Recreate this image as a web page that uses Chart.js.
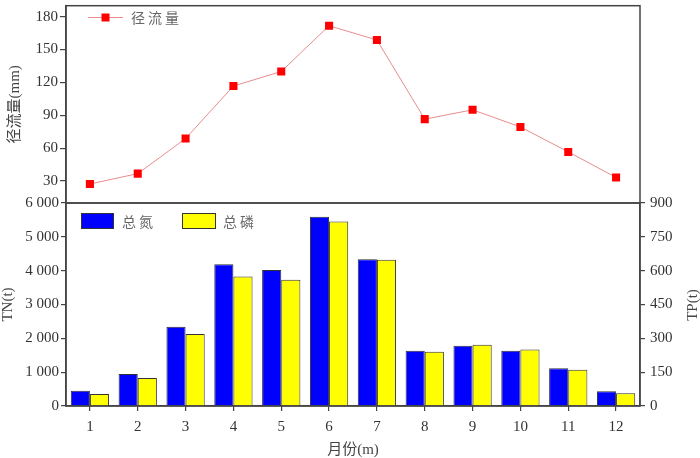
<!DOCTYPE html>
<html>
<head>
<meta charset="utf-8">
<script src="https://cdn.jsdelivr.net/npm/chart.js@4.4.1/dist/chart.umd.min.js"></script>
<style>
  html, body { margin: 0; padding: 0; background: #fff; }
  #wrap { position: relative; width: 700px; height: 458px; }
  canvas { position: absolute; left: 0; top: 0; }
</style>
</head>
<body>
<div id="wrap">
  <canvas id="bottom" width="700" height="458"></canvas>
  <canvas id="top" width="700" height="458"></canvas>
</div>
<script>
// ---- data ----
const months = ['1','2','3','4','5','6','7','8','9','10','11','12'];
const runoff = [27.3, 36.8, 68.8, 116.7, 130, 171.7, 158.7, 86.5, 95, 79.4, 56.6, 33.3];
const tn = [452, 946, 2344, 4188, 4020, 5596, 4335, 1635, 1783, 1635, 1113, 433];
const tp = [53, 124, 319, 574, 560, 818, 648, 241, 271, 251, 161, 56];
const runoffTicks = [30, 60, 90, 120, 150, 180];
const tnTicks = [0, 1000, 2000, 3000, 4000, 5000, 6000];
const tpTicks = [0, 150, 300, 450, 600, 750, 900];
const runoffLabel = '径流量';
const tnLabel = '总氮';
const tpLabel = '总磷';

const SERIF = "'Liberation Serif', 'Noto Sans CJK SC', serif";
const CJK = "'Noto Sans CJK SC', sans-serif";
const AX = '#444';
const TXT = '#333';

function fixWidth(w) {
  return function (scale) {
    scale.width = w;
    scale.paddingTop = 0; scale.paddingBottom = 0;
  };
}

const framePlugin = {
  id: 'frame',
  afterDraw(chart) {
    const a = chart.chartArea, ctx = chart.ctx;
    ctx.save();
    ctx.strokeStyle = AX;
    ctx.lineWidth = 1.5;
    ctx.strokeRect(a.left, a.top, a.right - a.left, a.bottom - a.top);
    ctx.restore();
  }
};

// ---- top chart: runoff line ----
const topLegend = {
  id: 'topLegend',
  afterDraw(chart) {
    const ctx = chart.ctx;
    const ds = chart.data.datasets[0];
    ctx.save();
    ctx.strokeStyle = ds.borderColor;
    ctx.lineWidth = 1;
    ctx.beginPath(); ctx.moveTo(88, 17.5); ctx.lineTo(123, 17.5); ctx.stroke();
    ctx.fillStyle = ds.pointBackgroundColor;
    ctx.fillRect(101.5, 13.5, 8, 8);
    ctx.fillStyle = '#666';
    ctx.font = '14px ' + CJK;
    ctx.letterSpacing = '3px';
    ctx.textBaseline = 'middle';
    ctx.fillText(ds.label, 131, 18);
    ctx.restore();
  }
};

new Chart(document.getElementById('top'), {
  type: 'line',
  data: {
    labels: months,
    datasets: [{
      label: runoffLabel,
      data: runoff,
      borderColor: 'rgb(232,140,140)',
      borderWidth: 1,
      pointStyle: 'rect',
      pointRadius: 5.7,
      pointBorderWidth: 0,
      pointBackgroundColor: '#ff0000',
      pointBorderColor: '#ff0000',
      tension: 0
    }]
  },
  options: {
    responsive: false,
    animation: false,
    devicePixelRatio: 1,
    layout: { padding: { top: 1, left: 0, right: 60, bottom: 255 } },
    plugins: { legend: { display: false }, tooltip: { enabled: false } },
    scales: {
      x: { type: 'category', offset: true, display: false },
      y: {
        min: 10, max: 190,
        afterBuildTicks(scale) { scale.ticks = runoffTicks.map(v => ({ value: v })); },
        afterFit: fixWidth(66),
        border: { display: true, color: AX, width: 1.5 },
        grid: { display: true, drawOnChartArea: false, drawTicks: true, tickLength: 6, color: AX, lineWidth: 1.2 },
        ticks: { padding: 2, color: TXT, font: { family: SERIF, size: 15 } },
        title: {
          display: true, text: runoffLabel + '(mm)', color: '#444',
          font: { family: SERIF, size: 15 }, padding: { top: 6, bottom: 0 }
        }
      }
    }
  },
  plugins: [framePlugin, topLegend]
});

// ---- bottom chart: TN / TP bars ----
const bottomLegend = {
  id: 'bottomLegend',
  afterDraw(chart) {
    const ctx = chart.ctx;
    const d = chart.data.datasets;
    ctx.save();
    ctx.lineWidth = 1;
    ctx.strokeStyle = '#333';
    ctx.fillStyle = d[0].backgroundColor;
    ctx.fillRect(81, 213, 33, 16); ctx.strokeRect(81.5, 213.5, 32, 15);
    ctx.fillStyle = d[1].backgroundColor;
    ctx.fillRect(182, 213, 34, 16); ctx.strokeRect(182.5, 213.5, 33, 15);
    ctx.fillStyle = '#666';
    ctx.font = '14px ' + CJK;
    ctx.letterSpacing = '3px';
    ctx.textBaseline = 'middle';
    ctx.fillText(d[0].label, 122, 221.5);
    ctx.fillText(d[1].label, 223, 221.5);
    // right axis title, reading bottom-to-top
    ctx.letterSpacing = '0px';
    ctx.translate(693, 305);
    ctx.rotate(-Math.PI / 2);
    ctx.textAlign = 'center';
    ctx.fillStyle = '#444';
    ctx.font = '15px ' + SERIF;
    ctx.fillText('TP(t)', 0, 0);
    ctx.restore();
  }
};

const fmtSpace = v => String(v).replace(/\B(?=(\d{3})+(?!\d))/g, ' ');

new Chart(document.getElementById('bottom'), {
  type: 'bar',
  data: {
    labels: months,
    datasets: [
      { label: tnLabel, data: tn, yAxisID: 'yTN', backgroundColor: '#0000ff', borderColor: '#333', borderWidth: 1,
        categoryPercentage: 0.8, barPercentage: 1.0 },
      { label: tpLabel, data: tp, yAxisID: 'yTP', backgroundColor: '#ffff00', borderColor: '#333', borderWidth: 1,
        categoryPercentage: 0.8, barPercentage: 1.0 }
    ]
  },
  options: {
    responsive: false,
    animation: false,
    devicePixelRatio: 1,
    layout: { padding: { top: 203, left: 0, right: 0, bottom: 0 } },
    plugins: { legend: { display: false }, tooltip: { enabled: false } },
    scales: {
      x: {
        type: 'category', offset: true,
        afterFit(scale) { scale.height = 52; scale.paddingLeft = 0; scale.paddingRight = 0; },
        border: { display: true, color: AX, width: 1.5 },
        grid: { display: true, offset: false, drawOnChartArea: false, drawTicks: true, tickLength: 5, color: AX, lineWidth: 1.2 },
        ticks: { padding: 7, color: TXT, font: { family: SERIF, size: 15 }, maxRotation: 0 },
        title: {
          display: true, text: '月份(m)', color: '#444',
          font: { family: SERIF, size: 15, lineHeight: 1.0 }, padding: { top: 0, bottom: 0 }
        }
      },
      yTN: {
        position: 'left',
        min: 0, max: 6000,
        afterBuildTicks(scale) { scale.ticks = tnTicks.map(v => ({ value: v })); },
        afterFit: fixWidth(66),
        border: { display: true, color: AX, width: 1.5 },
        grid: { display: true, drawOnChartArea: false, drawTicks: true, tickLength: 5, color: AX, lineWidth: 1.2 },
        ticks: { padding: 2, color: TXT, font: { family: SERIF, size: 15 }, callback: v => fmtSpace(v) },
        title: {
          display: true, text: 'TN(t)', color: '#444',
          font: { family: SERIF, size: 15 }, padding: { top: -1, bottom: 0 }
        }
      },
      yTP: {
        position: 'right',
        min: 0, max: 900,
        afterBuildTicks(scale) { scale.ticks = tpTicks.map(v => ({ value: v })); },
        afterFit: fixWidth(60),
        border: { display: true, color: AX, width: 1.5 },
        grid: { display: true, drawOnChartArea: false, drawTicks: true, tickLength: 5, color: AX, lineWidth: 1.2 },
        ticks: { padding: 5, color: TXT, font: { family: SERIF, size: 15 } },
        title: { display: false }
      }
    }
  },
  plugins: [framePlugin, bottomLegend]
});
</script>
</body>
</html>
